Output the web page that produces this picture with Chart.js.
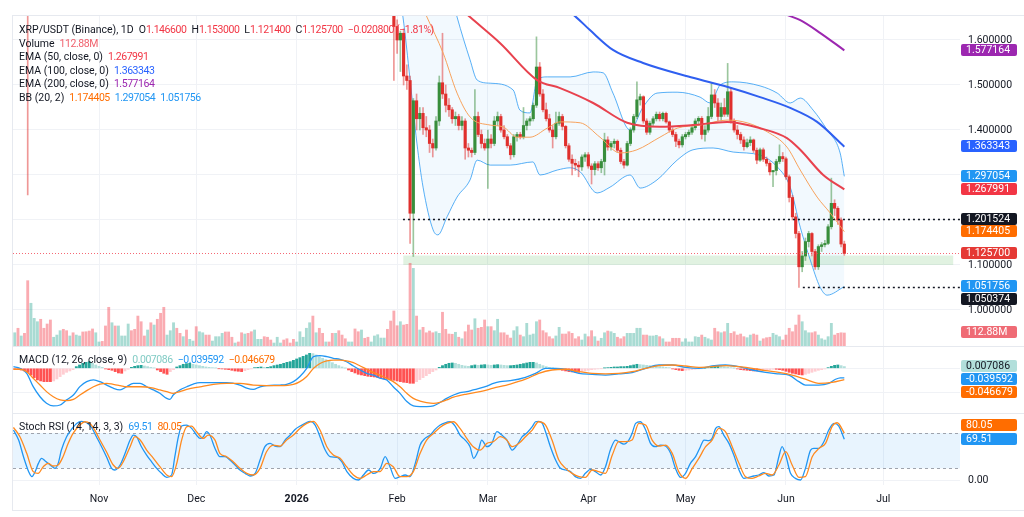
<!DOCTYPE html>
<html>
<head>
<meta charset="utf-8">
<title>XRP/USDT 1D</title>
<script src="https://cdn.jsdelivr.net/npm/chart.js@4.4.1/dist/chart.umd.min.js"></script>
<style>
  html, body { margin: 0; padding: 0; background: #fff; }
  #wrap { position: relative; width: 1024px; height: 517px; overflow: hidden; font-family: Roboto, "Noto Sans", sans-serif; }
  #wrap canvas { position: absolute; left: 13px; }
  .sep { position: absolute; left: 13px; width: 1011px; height: 1px; background: #e6e9ef; }
  .leg { position: absolute; left: 19px; font-size: 10.5px; line-height: 14px; color: #131722; white-space: nowrap; }
  .leg .v { margin-left: 5px; letter-spacing: -0.45px; }
  .leg .k { margin-left: 5px; }
  .leg .k .dn { letter-spacing: -0.45px; }
  .dn { color: #f23645; }
</style>
</head>
<body>
<div id="wrap">
  <canvas id="cPrice" width="1011" height="330" style="top:16px"></canvas>
  <canvas id="cMacd" width="1011" height="67" style="top:346px"></canvas>
  <canvas id="cStoch" width="1011" height="100" style="top:413px"></canvas>
  <div class="sep" style="top:15px"></div>
  <div class="sep" style="top:346px"></div>
  <div class="sep" style="top:413px"></div>
  <div class="sep" style="top:510px"></div>
  <div style="position:absolute;left:12px;top:15px;width:1px;height:496px;background:#e6e9ef"></div>

  <div class="leg" style="top:23px">XRP/USDT (Binance), 1D<span class="k">O<span class="dn">1.146600</span></span><span class="k">H<span class="dn">1.153000</span></span><span class="k">L<span class="dn">1.121400</span></span><span class="k">C<span class="dn">1.125700</span></span><span class="k"><span class="dn">−0.020800 (−1.81%)</span></span></div>
  <div class="leg" style="top:37px">Volume<span class="v" style="color:#f0616d">112.88M</span></div>
  <div class="leg" style="top:50px">EMA (50, close, 0)<span class="v" style="color:#f23645">1.267991</span></div>
  <div class="leg" style="top:64px">EMA (100, close, 0)<span class="v" style="color:#2962ff">1.363343</span></div>
  <div class="leg" style="top:77px">EMA (200, close, 0)<span class="v" style="color:#9c27b0">1.577164</span></div>
  <div class="leg" style="top:91px">BB (20, 2)<span class="v" style="color:#ff6d00">1.174405</span><span class="v" style="color:#2196f3">1.297054</span><span class="v" style="color:#2196f3">1.051756</span></div>
  <div class="leg" style="top:353px">MACD (12, 26, close, 9)<span class="v" style="color:#80cbc4">0.007086</span><span class="v" style="color:#2196f3">−0.039592</span><span class="v" style="color:#ff6d00">−0.046679</span></div>
  <div class="leg" style="top:420px">Stoch RSI (14, 14, 3, 3)<span class="v" style="color:#2196f3">69.51</span><span class="v" style="color:#ff6d00">80.05</span></div>
</div>
<script>
// day index: 0 = 2025-10-01
const monthDays = [31, 61, 92, 123, 151, 182, 212, 243, 273];
const monthLabels = ['Nov', 'Dec', '2026', 'Feb', 'Mar', 'Apr', 'May', 'Jun', 'Jul'];
const X_MIN = 4.46, X_MAX = 296.7;

// daily candles from day 122 (Jan 31) to day 261 (Jun 19)
const candleStart = 122;
const open = [1.68,1.63,1.60,1.615,1.52,1.51,1.215,1.465,1.425,1.437,1.405,1.40,1.37,1.36,1.42,1.505,1.48,1.455,1.445,1.425,
  1.43,1.41,1.42,1.36,1.355,1.35,1.43,1.39,1.37,1.36,1.38,1.37,1.42,1.43,1.40,1.385,1.365,1.345,1.385,1.39,
  1.385,1.41,1.42,1.425,1.455,1.54,1.48,1.445,1.425,1.40,1.385,1.415,1.43,1.408,1.365,1.335,1.326,1.322,1.318,1.34,
  1.345,1.32,1.312,1.325,1.316,1.33,1.378,1.362,1.37,1.375,1.355,1.33,1.322,1.37,1.40,1.43,1.467,1.474,1.42,1.395,
  1.415,1.425,1.435,1.425,1.437,1.418,1.40,1.39,1.375,1.367,1.385,1.39,1.395,1.405,1.42,1.426,1.39,1.40,1.43,1.478,
  1.46,1.43,1.45,1.435,1.485,1.42,1.40,1.39,1.378,1.363,1.372,1.378,1.355,1.333,1.356,1.335,1.326,1.307,1.31,1.33,
  1.341,1.336,1.296,1.25,1.207,1.17,1.096,1.12,1.152,1.17,1.13,1.096,1.141,1.145,1.148,1.185,1.237,1.226,1.20,1.1466];
const high = [1.70,1.645,1.62,1.625,1.545,1.52,1.47,1.48,1.45,1.45,1.43,1.41,1.38,1.43,1.52,1.615,1.50,1.47,1.45,1.44,
  1.435,1.43,1.425,1.37,1.36,1.49,1.44,1.40,1.38,1.40,1.39,1.43,1.44,1.435,1.41,1.39,1.37,1.39,1.395,1.395,
  1.45,1.425,1.43,1.46,1.607,1.55,1.49,1.46,1.435,1.41,1.44,1.44,1.435,1.41,1.37,1.345,1.335,1.33,1.345,1.35,
  1.35,1.325,1.33,1.33,1.335,1.393,1.385,1.375,1.38,1.378,1.36,1.335,1.375,1.405,1.435,1.507,1.48,1.476,1.425,1.42,
  1.43,1.44,1.44,1.44,1.44,1.42,1.405,1.395,1.38,1.39,1.395,1.40,1.41,1.425,1.43,1.43,1.41,1.45,1.504,1.49,
  1.47,1.46,1.47,1.548,1.495,1.425,1.41,1.395,1.385,1.38,1.385,1.38,1.36,1.36,1.36,1.34,1.33,1.31,1.335,1.367,
  1.35,1.34,1.30,1.255,1.215,1.175,1.13,1.16,1.175,1.172,1.135,1.145,1.15,1.155,1.19,1.293,1.245,1.23,1.205,1.153];
const low = [1.51,1.57,1.53,1.50,1.49,1.148,1.119,1.40,1.40,1.39,1.385,1.35,1.34,1.355,1.41,1.47,1.44,1.43,1.415,1.41,
  1.40,1.40,1.335,1.34,1.34,1.345,1.385,1.36,1.355,1.27,1.36,1.365,1.41,1.395,1.38,1.36,1.335,1.34,1.375,1.38,
  1.38,1.40,1.41,1.42,1.45,1.475,1.44,1.42,1.395,1.36,1.38,1.41,1.40,1.36,1.33,1.30,1.31,1.296,1.31,1.33,
  1.315,1.28,1.30,1.31,1.305,1.30,1.355,1.355,1.36,1.35,1.325,1.315,1.32,1.365,1.395,1.425,1.455,1.415,1.39,1.39,
  1.41,1.42,1.42,1.42,1.415,1.395,1.385,1.363,1.36,1.362,1.38,1.385,1.39,1.40,1.41,1.38,1.375,1.395,1.425,1.45,
  1.42,1.42,1.43,1.43,1.415,1.395,1.38,1.37,1.355,1.36,1.365,1.35,1.325,1.33,1.33,1.32,1.30,1.274,1.30,1.325,
  1.33,1.29,1.24,1.20,1.16,1.0504,1.085,1.11,1.14,1.12,1.09,1.09,1.13,1.14,1.145,1.18,1.21,1.19,1.14,1.1214];
const close = [1.63,1.60,1.615,1.52,1.51,1.215,1.465,1.425,1.437,1.405,1.40,1.37,1.36,1.42,1.505,1.48,1.455,1.445,1.425,1.43,
  1.41,1.42,1.36,1.355,1.35,1.43,1.39,1.37,1.36,1.38,1.37,1.42,1.43,1.40,1.385,1.365,1.345,1.385,1.39,1.385,
  1.41,1.42,1.425,1.455,1.54,1.48,1.445,1.425,1.40,1.385,1.415,1.43,1.408,1.365,1.335,1.326,1.322,1.318,1.34,1.345,
  1.32,1.312,1.325,1.316,1.33,1.378,1.362,1.37,1.375,1.355,1.33,1.322,1.37,1.40,1.43,1.467,1.474,1.42,1.395,1.415,
  1.425,1.435,1.425,1.437,1.418,1.40,1.39,1.375,1.367,1.385,1.39,1.395,1.405,1.42,1.426,1.39,1.40,1.43,1.478,1.46,
  1.43,1.45,1.435,1.485,1.42,1.40,1.39,1.378,1.363,1.372,1.378,1.355,1.333,1.356,1.335,1.326,1.307,1.31,1.33,1.341,
  1.336,1.296,1.25,1.207,1.17,1.096,1.12,1.152,1.17,1.13,1.096,1.141,1.145,1.148,1.185,1.237,1.226,1.20,1.1466,1.1257];
// the Oct 10 crash candle: only its lower wick reaches the visible range
const earlyCandle = { day: 9, o: 2.80, h: 2.84, l: 1.256, c: 2.36 };

// volume (millions), days 5..261
const volStart = 5;
const volume = [115,154,87,110,567,371,240,211,232,154, 191,226,76,95,133,145,133,87,115,95,
  87,122,124,130,148,115,35,40,174,336, 202,174,174,87,87,191,133,145,260,211,
  87,139,202,182,232,284,336,95,133,202, 154,110,81,139,58,43,168,124,115,95,
  95,43,81,81,110,122,122,76,26,35, 115,104,110,124,139,58,58,81,76,52,
  26,76,26,52,63,26,58,35,124,76, 154,202,260,115,154,110,35,35,110,110,
  133,95,63,35,35,148,124,139,67,76, 35,87,98,69,69,145,217,304,176,211,
  182,188,718,674,260,139,162,115,130,115, 124,110,293,145,104,102,119,76,63,124,
  182,139,237,154,162,226,168,168,133,232, 115,115,95,69,133,168,95,81,197,95,
  104,211,226,133,115,81,63,87,162,104, 104,124,110,63,81,52,104,81,133,81,
  43,67,115,130,124,110,76,63,81,110, 110,110,154,154,95,95,87,87,93,81,
  63,35,35,67,67,67,35,63,35,35, 81,76,95,76,63,52,154,124,115,124,
  197,110,124,95,104,81,72,95,104,95, 43,63,72,76,110,95,81,52,95,154,
  124,182,269,211,133,115,115,124,95,63, 52,81,197,95,110,115,112.88];
// up/down for days before the visible candles (5..121)
const volDirEarly = 'GRGRRGGGRRRRGGGRRGRGGRRRRGGRRRGRGGGGRRRRRGRGRRRGGGRRGRGGRGGRRGGGGRRRGRRGRRGGGRRRGGGRRRRGGGGGRGRRGRRGRRRGGRRGRRGGGGGRR';

// MACD histogram, days 5..261
const macdHist = [-0.0041,-0.0055,-0.0069,-0.0110,-0.0165,-0.0274,-0.0384,-0.0480,-0.0521,-0.0549,
  -0.0549,-0.0549,-0.0521,-0.0439,-0.0343,-0.0247,-0.0165,-0.0110,-0.0055,0.0069,
  0.0137,0.0206,0.0247,0.0274,0.0206,0.0137,0.0082,0.0041,-0.0027,-0.0055,
  -0.0082,-0.0137,-0.0192,-0.0206,-0.0110,-0.0041,0.0041,0.0082,0.0110,0.0123,
  0.0096,0.0069,0.0041,0.0014,-0.0069,-0.0137,-0.0206,-0.0247,-0.0137,-0.0055,
  0.0055,0.0110,0.0165,0.0192,0.0206,0.0165,0.0137,0.0110,0.0082,0.0055,
  0.0041,0.0027,0.0014,-0.0014,-0.0027,-0.0041,-0.0055,-0.0082,-0.0110,-0.0123,
  -0.0137,-0.0096,-0.0055,-0.0027,0.0027,0.0041,0.0055,0.0041,0.0041,0.0069,
  0.0110,0.0137,0.0165,0.0206,0.0247,0.0274,0.0329,0.0384,0.0439,0.0494,
  0.0549,0.0617,0.0604,0.0549,0.0480,0.0412,0.0357,0.0302,0.0233,0.0165,
  0.0110,0.0055,0.0005,-0.0069,-0.0137,-0.0192,-0.0247,-0.0274,-0.0302,-0.0329,
  -0.0343,-0.0357,-0.0384,-0.0412,-0.0439,-0.0453,-0.0480,-0.0494,-0.0521,-0.0549,
  -0.0576,-0.0590,-0.0617,-0.0617,-0.0549,-0.0466,-0.0384,-0.0302,-0.0220,-0.0137,
  -0.0069,0.0041,0.0110,0.0165,0.0206,0.0220,0.0206,0.0165,0.0123,0.0096,
  0.0082,0.0110,0.0137,0.0123,0.0137,0.0151,0.0137,0.0123,0.0137,0.0151,
  0.0137,0.0123,0.0110,0.0110,0.0123,0.0137,0.0165,0.0192,0.0220,0.0247,
  0.0247,0.0220,0.0165,0.0110,0.0069,0.0041,0.0014,-0.0027,-0.0055,-0.0082,
  -0.0110,-0.0137,-0.0151,-0.0165,-0.0165,-0.0137,-0.0110,-0.0082,-0.0055,-0.0041,
  -0.0027,-0.0014,0.0014,0.0027,0.0041,0.0055,0.0055,0.0069,0.0069,0.0082,
  0.0110,0.0137,0.0165,0.0151,0.0137,0.0123,0.0110,0.0096,0.0082,0.0069,
  0.0055,0.0041,0.0027,-0.0027,-0.0055,-0.0082,-0.0096,-0.0082,-0.0069,-0.0055,
  -0.0041,-0.0027,-0.0014,0.0003,0.0027,0.0055,0.0082,0.0096,0.0082,0.0069,
  0.0055,0.0027,0.0003,-0.0027,-0.0055,-0.0069,-0.0082,-0.0096,-0.0110,-0.0110,
  -0.0096,-0.0082,-0.0069,-0.0055,-0.0041,-0.0041,-0.0055,-0.0082,-0.0123,-0.0165,
  -0.0206,-0.0233,-0.0261,-0.0274,-0.0247,-0.0206,-0.0165,-0.0123,-0.0082,-0.0055,
  -0.0027,0.0027,0.0082,0.0123,0.0137,0.0110,0.0071];

// overlay lines: [day, value]
const ema50Pts = [[128,1.75],[136.2,1.711],[145.5,1.651],[154.8,1.593],[166.2,1.511],[173.3,1.493],[183.5,1.460],[194,1.416],[204.1,1.407],[214.3,1.411],[224.8,1.418],[235,1.404],[243.3,1.382],[247.4,1.356],[254.5,1.300],[261,1.268]];
const ema100Pts = [[165,1.72],[177.9,1.653],[182.5,1.622],[189.6,1.578],[198.9,1.549],[214.3,1.516],[224.8,1.496],[235,1.473],[244.3,1.449],[252.6,1.418],[261,1.363]];
const ema200Pts = [[235,1.68],[244.3,1.653],[247.4,1.644],[253.5,1.616],[261,1.577]];
const bbBasisPts = [[128,1.72],[132.2,1.651],[137.2,1.571],[141.5,1.482],[145.5,1.429],[151.7,1.411],[155.7,1.407],[160,1.384],[164,1.384],[169.3,1.404],[173.3,1.418],[179.5,1.416],[185.6,1.384],[191.8,1.349],[197,1.356],[204.1,1.384],[209.4,1.404],[216.5,1.411],[224.8,1.422],[231,1.416],[237.2,1.396],[243.3,1.362],[247.4,1.311],[252.6,1.251],[256.6,1.216],[261,1.174]];
const bbUpperPts = [[120,2.0],[138,1.75],[141.5,1.651],[145.5,1.556],[147.7,1.511],[151.7,1.504],[158.8,1.489],[160.9,1.444],[164,1.438],[166.2,1.511],[169.3,1.518],[176.4,1.518],[183.5,1.529],[186.6,1.527],[189.6,1.482],[194.9,1.400],[198.9,1.451],[203.2,1.482],[209.4,1.484],[216.5,1.473],[219.6,1.460],[222.7,1.500],[226.7,1.507],[235,1.498],[240.3,1.482],[244.3,1.460],[247.4,1.471],[251.4,1.444],[255.7,1.400],[259.7,1.349],[261,1.297]];
const bbLowerPts = [[120,1.85],[124.8,1.651],[127,1.511],[129.1,1.371],[131,1.273],[134.1,1.178],[135.6,1.167],[138.4,1.207],[141.5,1.251],[145.5,1.289],[147.7,1.333],[151.7,1.322],[157.9,1.322],[164.9,1.329],[167.1,1.300],[172.4,1.311],[176.4,1.316],[179.5,1.307],[184.7,1.260],[188.7,1.273],[194.9,1.300],[198,1.271],[203.2,1.289],[209.4,1.333],[214.3,1.356],[220.5,1.360],[226.7,1.351],[235,1.344],[240.3,1.318],[244.3,1.273],[247.4,1.184],[250.5,1.111],[253.5,1.051],[255.7,1.033],[261,1.052]];

const macdPts = [[4.6,0.0067],[6.6,0],[8.7,-0.0206],[10.7,-0.0756],[12.8,-0.117],[14.8,-0.144],[16.9,-0.155],[19.0,-0.151],[21.0,-0.130],[23.1,-0.110],[25.1,-0.0756],[27.2,-0.055],[29.3,-0.048],[31.3,-0.055],[33.4,-0.069],[35.4,-0.082],[37.5,-0.089],[39.5,-0.076],[41.6,-0.062],[43.7,-0.062],[45.7,-0.076],[47.8,-0.089],[49.8,-0.103],[51.9,-0.124],[52.9,-0.128],[53.9,-0.110],[56.0,-0.089],[58.1,-0.076],[60.1,-0.065],[62.2,-0.059],[66.3,-0.059],[70.4,-0.059],[74.5,-0.069],[76.6,-0.082],[78.6,-0.087],[80.7,-0.076],[82.7,-0.071],[86.9,-0.069],[88.9,-0.066],[91.0,-0.055],[93.0,-0.034],[95.1,0],[97.2,0.048],[99.2,0.052],[101.3,0.048],[103.3,0.041],[105.4,0.037],[107.4,0.027],[109.5,0.0095],[111.6,-0.007],[113.6,-0.021],[115.7,-0.028],[117.7,-0.041],[119.8,-0.048],[121.8,-0.076],[123.9,-0.103],[126.0,-0.137],[128.0,-0.155],[130.1,-0.158],[132.1,-0.158],[134.2,-0.155],[136.2,-0.141],[138.3,-0.124],[140.4,-0.110],[142.4,-0.100],[144.5,-0.096],[146.5,-0.089],[148.6,-0.082],[150.7,-0.073],[152.7,-0.062],[154.8,-0.055],[157.9,-0.051],[162.6,-0.037],[165.7,-0.021],[168.8,0],[171.9,0],[175.0,-0.004],[179.1,-0.021],[183.2,-0.025],[187.3,-0.028],[191.4,-0.023],[195.5,-0.018],[199.7,0],[203.8,0.0136],[207.9,0.0136],[212.0,0.004],[216.1,0],[220.2,0.0095],[224.3,0.0136],[228.5,0.0067],[232.6,-0.007],[236.7,-0.017],[240.8,-0.023],[243.9,-0.028],[247.0,-0.055],[249.0,-0.069],[253.1,-0.069],[256.2,-0.062],[258.3,-0.045],[259.8,-0.039],[261,-0.0396]];
const signalPts = [[4.6,-0.004],[6.6,-0.004],[8.7,-0.014],[10.7,-0.041],[12.8,-0.069],[14.8,-0.096],[16.9,-0.117],[19.0,-0.130],[21.0,-0.133],[23.1,-0.128],[25.1,-0.110],[27.2,-0.092],[29.3,-0.076],[31.3,-0.065],[33.4,-0.062],[35.4,-0.066],[37.5,-0.071],[39.5,-0.076],[43.7,-0.076],[47.8,-0.082],[49.8,-0.089],[51.9,-0.096],[53.9,-0.103],[56.0,-0.096],[58.1,-0.087],[62.2,-0.076],[66.3,-0.066],[70.4,-0.062],[74.5,-0.062],[78.6,-0.069],[82.7,-0.071],[86.9,-0.071],[91.0,-0.066],[93.0,-0.055],[95.1,-0.034],[97.2,0],[99.2,0.020],[101.3,0.031],[103.3,0.034],[105.4,0.034],[107.4,0.031],[109.5,0.023],[111.6,0.0095],[113.6,-0.004],[115.7,-0.018],[117.7,-0.028],[119.8,-0.041],[121.8,-0.055],[123.9,-0.076],[126.0,-0.103],[128.0,-0.124],[130.1,-0.135],[132.1,-0.141],[134.2,-0.144],[136.2,-0.140],[138.3,-0.130],[140.4,-0.119],[144.5,-0.106],[148.6,-0.096],[152.7,-0.082],[157.9,-0.065],[162.6,-0.045],[166.7,-0.021],[170.8,-0.007],[175.0,-0.004],[179.1,-0.014],[183.2,-0.021],[187.3,-0.023],[191.4,-0.021],[195.5,-0.014],[199.7,0],[203.8,0.011],[207.9,0.0136],[212.0,0.0095],[216.1,0.004],[220.2,0.0067],[224.3,0.011],[228.5,0.0067],[232.6,0],[236.7,-0.0096],[240.8,-0.017],[244.9,-0.028],[249.0,-0.045],[253.1,-0.062],[257.2,-0.058],[261,-0.0467]];

const stochKPts = [[4.6,85.1],[6.2,68.1],[7.7,39.8],[9.3,14.4],[10.3,5.9],[11.3,14.4],[12.3,28.5],[13.3,37],[14.3,33],[15.3,28.5],[16.3,24],[17.4,20],[18.4,28.5],[19.4,51.1],[21.0,73.8],[22.5,86.2],[24.1,96.4],[25.6,100],[27.2,97.5],[28.7,89.6],[30.2,73.8],[31.8,56.8],[33.3,39.8],[34.9,20],[35.9,17.2],[37.5,25.7],[39.0,45],[40.6,68.1],[41.6,76.6],[42.6,73.8],[44.1,56.8],[45.7,42.6],[47.2,31.3],[48.8,20],[50.3,11.5],[51.9,4.7],[53.4,8.7],[54.4,39.8],[55.5,73.8],[56.5,91.9],[58.0,93.6],[59.6,87.9],[61.1,76.6],[62.2,70.9],[63.2,73.8],[64.2,82.3],[65.2,76.6],[66.8,53.9],[68.3,39.8],[69.9,39.8],[71.4,34.2],[73.0,25.7],[74.5,17.2],[76.1,11.5],[77.6,7],[79.2,11.5],[80.7,34.2],[82.2,56.8],[83.8,62.5],[85.3,57.9],[86.9,56.8],[88.4,68.1],[90.0,76.6],[91.5,86.2],[93.1,91.9],[94.6,96.4],[96.2,100],[97.7,93.6],[99.2,73.8],[100.8,51.1],[102.3,39.8],[104.4,38.7],[105.9,31.3],[107.5,14.4],[109.5,3],[111.1,0.2],[112.6,8.7],[114.2,17.2],[115.7,11.5],[117.8,20],[119.3,39.8],[120.8,22.8],[122.4,3],[123.9,5.9],[125.5,8.7],[127.0,5.9],[128.6,28.5],[130.1,59.6],[131.6,70.9],[133.2,76.6],[134.7,86.2],[136.3,93.6],[137.8,97.5],[139.3,99.2],[140.9,91.9],[142.4,76.6],[144.0,68.1],[145.5,56.8],[146.6,37],[148.1,51.1],[149.1,68.1],[150.7,56.8],[152.2,62.5],[153.8,82.3],[155.3,76.6],[156.9,68.1],[158.5,51.1],[160.0,59.6],[161.6,73.8],[163.1,80.6],[164.7,90.8],[165.7,99.2],[166.7,100],[167.8,96.4],[168.8,82.3],[170.3,56.8],[171.9,34.2],[173.4,20],[175.0,17.2],[176.5,14.4],[178.0,5.9],[179.6,3],[181.1,11.5],[182.7,18.3],[184.2,14.4],[185.8,8.7],[187.3,22.8],[188.8,51.1],[190.4,68.1],[191.4,65.3],[193.0,61.3],[194.5,68.1],[195.5,79.4],[196.6,96.4],[198.1,99.2],[199.7,85.1],[201.2,62.5],[202.7,56.8],[204.3,59.6],[205.8,57.9],[207.4,45.5],[208.9,20],[210.5,4.7],[212.0,11.5],[213.5,28.5],[215.1,39.8],[216.6,56.8],[217.7,68.1],[219.2,67],[220.2,70.9],[221.3,88],[222.3,90.8],[223.8,76.6],[225.4,62.5],[226.9,42.6],[228.5,17.2],[230.0,3],[231.5,4.7],[233.1,7],[234.6,8.7],[236.2,12.7],[237.7,7],[239.3,8.7],[240.8,39.8],[241.8,56.8],[242.9,42.6],[244.4,11.5],[245.9,3],[247.5,0.2],[249.0,20],[250.6,51.1],[251.6,54],[253.1,54],[254.7,65.3],[256.2,85.1],[257.8,96.4],[259.3,91.9],[261,69.51]];
const stochDPts = [[4.6,89.6],[6.6,73.8],[8.7,45.5],[10.7,14.4],[12.2,11.5],[13.8,22.8],[15.3,28.5],[16.9,24],[18.4,25.7],[19.9,39.8],[21.5,62.5],[23.0,79.4],[25.1,93.6],[26.6,99.2],[28.2,96.4],[29.7,85.1],[31.3,68.1],[33.3,48.3],[35.4,25.7],[36.9,20],[38.5,31.3],[40.6,56.8],[42.1,73.8],[43.7,68.1],[45.7,51.1],[47.8,37],[49.8,22.8],[51.9,8.7],[53.4,5.9],[55.0,28.5],[56.5,68.1],[58.1,90.8],[59.6,91.9],[61.1,82.3],[63.2,70.9],[64.7,76.6],[66.8,68.1],[68.3,45.5],[70.4,39.8],[72.4,31.3],[74.5,20],[76.6,11.5],[78.6,8.7],[80.7,20],[82.7,48.3],[84.8,59.6],[86.9,57.9],[88.9,68.1],[91.0,76.6],[93.0,87.9],[95.1,96.4],[97.2,100],[99.2,85.1],[101.3,56.8],[103.3,42.6],[105.4,37],[107.4,22.8],[109.5,8.7],[111.6,3],[113.6,8.7],[115.7,14.4],[117.7,14.4],[119.8,28.5],[121.8,22.8],[123.9,5.9],[126.0,5.9],[128.0,14.4],[130.1,45.5],[132.1,68.1],[134.2,79.4],[136.2,89.6],[138.3,96.4],[140.4,99.2],[142.4,88],[144.5,71],[146.5,56.8],[148.6,51.1],[150.7,62.5],[152.7,65.3],[154.8,73.8],[156.8,68.1],[158.5,56.8],[160.6,62.5],[162.6,73.8],[164.7,85.1],[166.7,99.2],[168.8,93.6],[170.8,68.1],[172.9,34.2],[175.0,20],[177.0,11.5],[179.1,5.9],[181.1,4.7],[183.2,17.2],[185.2,14.4],[187.3,11.5],[189.4,42.6],[191.4,65.3],[193.5,65.3],[195.5,68.1],[197.6,96.4],[199.7,93.6],[201.7,68.1],[203.8,57.9],[205.8,59.6],[207.9,45.5],[209.9,14.4],[212.0,3],[214.1,20],[216.1,37],[218.2,56.8],[220.2,68.1],[222.3,87.9],[224.3,82.3],[226.4,56.8],[228.5,28.5],[230.5,5.9],[232.6,3],[234.6,7],[236.7,11.5],[238.7,8.7],[240.8,25.7],[242.9,48.3],[244.9,25.7],[247.0,4.7],[249.0,5.9],[251.1,39.8],[253.2,54],[255.2,62.5],[257.3,91.9],[258.8,97.5],[261,80.05]];

// price levels
const lastPrice = 1.1257;
const dottedLevels = [[124.8, 1.201524], [248.2, 1.050374]];
const zone = { from: 124.9, to: 294.6, lo: 1.100, hi: 1.121 };
const priceTicks = [1.0, 1.1, 1.2, 1.3, 1.4, 1.5, 1.6];
const macdTicks = [0, -0.1];
const stochBands = [80, 20];

// right-edge value tags
const priceTags = [
  { v: 1.577164, text: '1.577164', bg: '#9c27b0' },
  { v: 1.363343, text: '1.363343', bg: '#2962ff' },
  { v: 1.297054, text: '1.297054', bg: '#2196f3' },
  { v: 1.267991, text: '1.267991', bg: '#f23645' },
  { v: 1.201524, text: '1.201524', bg: '#131722' },
  { v: 1.174405, text: '1.174405', bg: '#ff6d00' },
  { v: 1.125700, text: '1.125700', bg: '#e53935' },
  { v: 1.051756, text: '1.051756', bg: '#2196f3' },
  { v: 1.050374, text: '1.050374', bg: '#131722', dy: 12 },
  { v: 112.88, axis: 'yv', text: '112.88M', bg: '#ef6b75' }
];
const macdTags = [
  { v: 0.007086, text: '0.007086', bg: '#b2dfdb', fg: '#131722' },
  { v: -0.039592, text: '-0.039592', bg: '#2196f3', dy: 2 },
  { v: -0.046679, text: '-0.046679', bg: '#ff6d00', dy: 13 }
];
const stochTags = [
  { v: 80.05, text: '80.05', bg: '#ff6d00', dy: -8 },
  { v: 69.51, text: '69.51', bg: '#2196f3' }
];

const AXIS_FONT = '10.5px Roboto, "Noto Sans", sans-serif';
Chart.defaults.font.family = 'Roboto, "Noto Sans", sans-serif';
Chart.defaults.font.size = 10.5;
Chart.defaults.color = '#131722';

const GRID = '#f0f2f6';
const AXIS_W = 64;
const UP = '#388e3c', DOWN = '#e0302d';
const UP_W = 'rgba(56,142,60,0.5)', DOWN_W = 'rgba(224,48,45,0.5)';

function pts(a) { return a.map(p => ({ x: p[0], y: p[1] })); }

function line(a, color, width, order, extra) {
  return Object.assign({
    type: 'line', data: pts(a), borderColor: color, borderWidth: width,
    pointRadius: 0, cubicInterpolationMode: 'monotone', fill: false, order: order, clip: 0
  }, extra || {});
}

// keep the plot area edge to edge: no label padding from the scales
function noPad(s) { s.paddingTop = 0; s.paddingBottom = 0; s.paddingLeft = 0; s.paddingRight = 0; }

function xAxis(labels) {
  return {
    type: 'linear', position: 'bottom', min: X_MIN, max: X_MAX, offset: false,
    afterBuildTicks: s => { s.ticks = monthDays.map(v => ({ value: v })); },
    afterFit: s => { s.height = labels ? 28 : 0; noPad(s); },
    grid: { color: GRID, drawTicks: false, offset: false },
    border: { display: false },
    ticks: {
      display: labels, padding: 8, maxRotation: 0, autoSkip: false,
      color: '#131722',
      font: c => ({ size: 10.5, weight: monthLabels[c.index] === '2026' ? 'bold' : 'normal' }),
      callback: v => monthLabels[monthDays.indexOf(v)]
    }
  };
}

function yAxis(min, max, ticks, fmt) {
  return {
    position: 'right', min: min, max: max,
    afterBuildTicks: s => { s.ticks = ticks.map(v => ({ value: v })); },
    afterFit: s => { s.width = AXIS_W; noPad(s); },
    grid: { color: GRID, drawTicks: false },
    border: { display: false },
    ticks: { padding: 8, color: '#131722', callback: fmt }
  };
}

function tagPlugin(tags) {
  return {
    id: 'tags',
    afterDraw(chart) {
      const ctx = chart.ctx;
      const x0 = chart.chartArea.right + 1;
      ctx.save();
      ctx.font = AXIS_FONT;
      ctx.textBaseline = 'middle';
      tags.forEach(t => {
        const y = chart.scales[t.axis || 'y'].getPixelForValue(t.v) + (t.dy || 0);
        ctx.fillStyle = t.bg;
        ctx.beginPath();
        ctx.roundRect(x0, Math.round(y - 6.5), 56, 12, 2);
        ctx.fill();
        ctx.fillStyle = t.fg || '#ffffff';
        ctx.fillText(t.text, x0 + 5, Math.round(y - 0.5));
      });
      ctx.restore();
    }
  };
}

const base = {
  responsive: false, animation: false, devicePixelRatio: 1,
  layout: { padding: 0 },
  plugins: { legend: { display: false }, tooltip: { enabled: false } }
};

// ---------- price pane ----------
const cDays = open.map((_, i) => candleStart + i);
const cUp = close.map((c, i) => c >= open[i]);
const wickData = [{ x: earlyCandle.day, y: [earlyCandle.l, earlyCandle.h] }]
  .concat(cDays.map((d, i) => ({ x: d, y: [low[i], high[i]] })));
const wickCol = [DOWN_W].concat(cUp.map(u => u ? UP_W : DOWN_W));
const bodyData = [{ x: earlyCandle.day, y: [earlyCandle.o, earlyCandle.c] }]
  .concat(cDays.map((d, i) => ({ x: d, y: [open[i], close[i]] })));
const bodyCol = [DOWN].concat(cUp.map(u => u ? UP : DOWN));

const volData = volume.map((v, i) => ({ x: volStart + i, y: v }));
const volCol = volume.map((v, i) => {
  const d = volStart + i;
  const up = d >= candleStart ? cUp[d - candleStart] : volDirEarly[i] === 'G';
  return up ? 'rgba(8,153,129,0.35)' : 'rgba(242,54,69,0.42)';
});

const priceOverlay = {
  id: 'priceOverlay',
  beforeDatasetsDraw(chart) {
    const { ctx, scales: { x, y } } = chart;
    ctx.save();
    ctx.fillStyle = 'rgba(76,175,80,0.17)';
    const x1 = x.getPixelForValue(zone.from), x2 = x.getPixelForValue(zone.to);
    const y1 = y.getPixelForValue(zone.hi), y2 = y.getPixelForValue(zone.lo);
    ctx.fillRect(x1, y1, x2 - x1, y2 - y1);
    ctx.restore();
  },
  afterDatasetsDraw(chart) {
    const { ctx, chartArea: a, scales: { x, y } } = chart;
    ctx.save();
    ctx.lineWidth = 1;
    ctx.strokeStyle = 'rgba(242,54,69,0.75)';
    ctx.setLineDash([1, 2]);
    let yy = Math.round(y.getPixelForValue(lastPrice)) + 0.5;
    ctx.beginPath(); ctx.moveTo(a.left, yy); ctx.lineTo(a.right, yy); ctx.stroke();
    ctx.strokeStyle = '#131722';
    ctx.lineWidth = 1.6;
    ctx.setLineDash([2, 3]);
    dottedLevels.forEach(l => {
      yy = Math.round(y.getPixelForValue(l[1])) + 0.5;
      ctx.beginPath(); ctx.moveTo(x.getPixelForValue(l[0]), yy); ctx.lineTo(a.right, yy); ctx.stroke();
    });
    ctx.restore();
  }
};

new Chart(document.getElementById('cPrice'), {
  data: {
    datasets: [
      line(bbUpperPts, 'rgba(33,150,243,0.75)', 1, 20, { fill: '+1', backgroundColor: 'rgba(33,150,243,0.06)' }),
      line(bbLowerPts, 'rgba(33,150,243,0.75)', 1, 21),
      { type: 'bar', data: volData, yAxisID: 'yv', backgroundColor: volCol, barThickness: 2.2, grouped: false, order: 15, clip: 0 },
      { type: 'bar', data: wickData, backgroundColor: wickCol, barThickness: 1, grouped: false, order: 10, clip: 0 },
      { type: 'bar', data: bodyData, backgroundColor: bodyCol, barThickness: 2.5, minBarLength: 1, grouped: false, order: 9, clip: 0 },
      line(bbBasisPts, '#f7a25c', 1, 8),
      line(ema200Pts, '#9c27b0', 2, 7),
      line(ema100Pts, '#2f5ff0', 2, 6),
      line(ema50Pts, '#e8424e', 2, 5)
    ]
  },
  options: Object.assign({}, base, {
    scales: {
      x: xAxis(false),
      y: yAxis(0.92, 1.65333, priceTicks, v => v.toFixed(6)),
      yv: { display: false, min: 0, max: 2865, afterFit: noPad }
    }
  }),
  plugins: [priceOverlay, tagPlugin(priceTags)]
});

// ---------- MACD pane ----------
const histData = macdHist.map((v, i) => ({ x: volStart + i, y: v }));
const histCol = macdHist.map((v, i) => {
  const prev = i > 0 ? macdHist[i - 1] : v;
  if (v >= 0) return v >= prev ? '#26a69a' : '#b2dfdb';
  return v <= prev ? '#ff5252' : '#ffcdd2';
});

new Chart(document.getElementById('cMacd'), {
  data: {
    datasets: [
      { type: 'bar', data: histData, backgroundColor: histCol, barThickness: 2.2, grouped: false, order: 5, clip: 0 },
      line(macdPts, '#2196f3', 1.3, 2),
      line(signalPts, '#ff8a1f', 1.3, 1)
    ]
  },
  options: Object.assign({}, base, {
    scales: {
      x: xAxis(false),
      y: yAxis(-0.184, 0.0918, macdTicks, v => v.toFixed(6))
    }
  }),
  plugins: [tagPlugin(macdTags)]
});

// ---------- Stoch RSI pane ----------
const stochBand = {
  id: 'stochBand',
  beforeDatasetsDraw(chart) {
    const { ctx, chartArea: a, scales: { y } } = chart;
    const yt = y.getPixelForValue(stochBands[0]), yb = y.getPixelForValue(stochBands[1]);
    ctx.save();
    ctx.fillStyle = 'rgba(33,150,243,0.1)';
    ctx.fillRect(a.left, yt, a.right - a.left, yb - yt);
    ctx.strokeStyle = '#9ea3ad';
    ctx.lineWidth = 1;
    ctx.setLineDash([3, 3]);
    [yt, yb].forEach(v => {
      const yy = Math.round(v) + 0.5;
      ctx.beginPath(); ctx.moveTo(a.left, yy); ctx.lineTo(a.right, yy); ctx.stroke();
    });
    ctx.restore();
  }
};

new Chart(document.getElementById('cStoch'), {
  data: {
    datasets: [
      line(stochKPts, '#2196f3', 1.3, 2),
      line(stochDPts, '#ff8a1f', 1.3, 1)
    ]
  },
  options: Object.assign({}, base, {
    scales: {
      x: xAxis(true),
      y: yAxis(-8.3, 114.1, [0], v => v.toFixed(2))
    }
  }),
  plugins: [stochBand, tagPlugin(stochTags)]
});
</script>
</body>
</html>
